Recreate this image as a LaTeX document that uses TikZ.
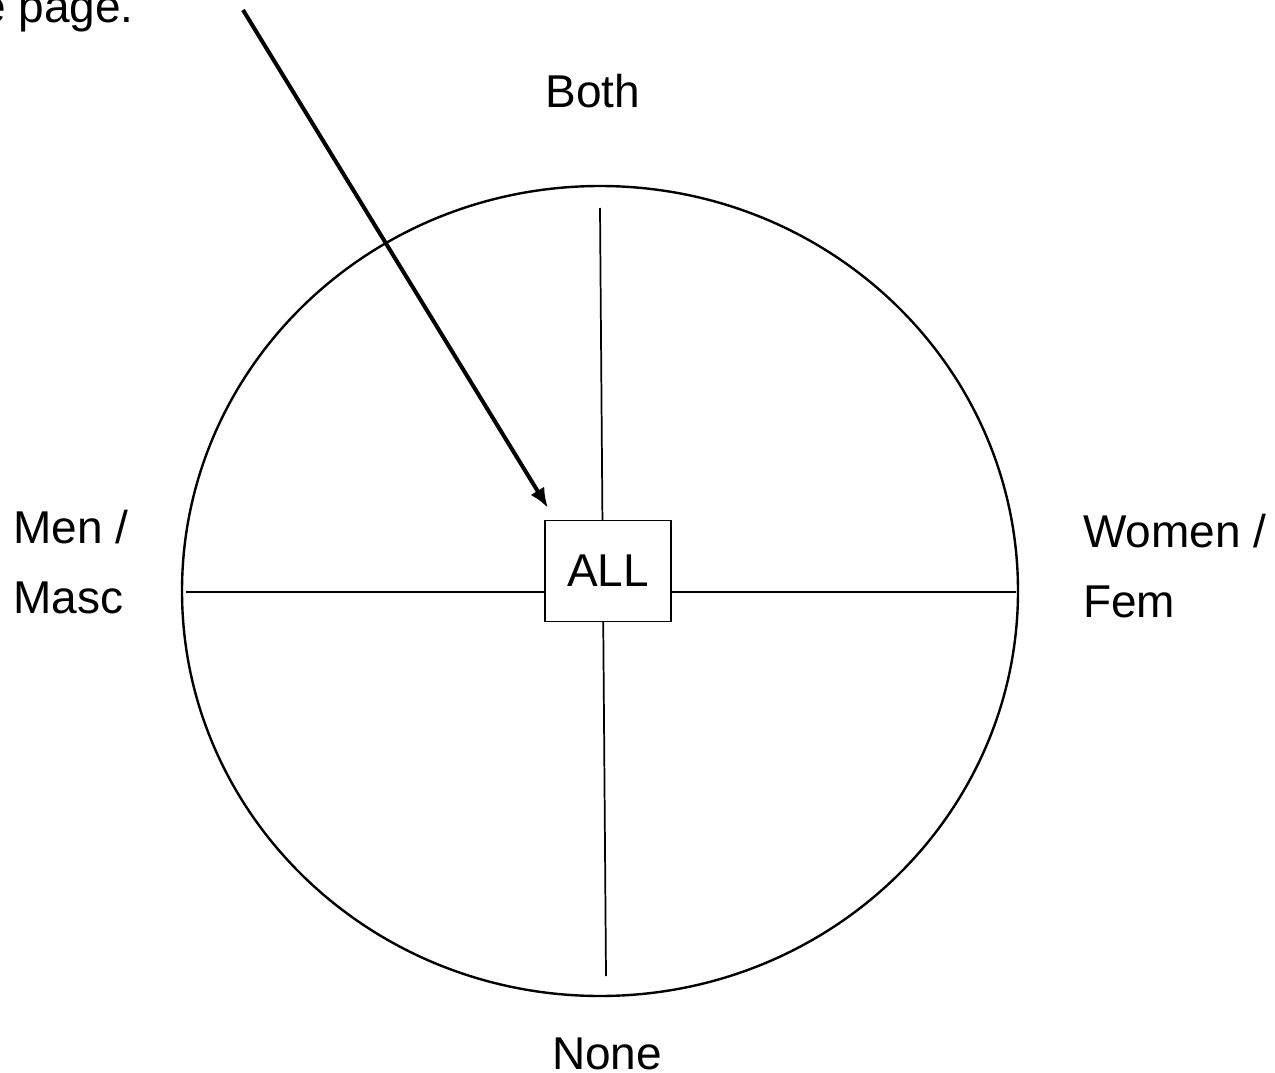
\documentclass[tikz,border=0pt]{standalone}
\usepackage{fontspec}
\setmainfont{Liberation Sans}
\usetikzlibrary{arrows.meta}
\tikzset{
  lbl/.style={font=\fontsize{34.5}{52.5}\selectfont,inner sep=0pt,align=left},
  spoke/.style={line width=1.3pt},
  allbox/.style={draw,fill=white,line width=1.4pt,minimum width=94.5pt,minimum height=75.75pt,inner sep=0pt,font=\fontsize{34.5}{40}\selectfont}
}
\begin{document}
\begin{tikzpicture}[x=0.75pt,y=-0.75pt]
\useasboundingbox (0,0) rectangle (1275,1073);
\draw[line width=1.8pt] (600,591) ellipse [x radius=418,y radius=405];
\coordinate (top) at (600,208);
\coordinate (bot) at (606,976);
\coordinate (lft) at (186,592);
\coordinate (rgt) at (1016,592);
\draw[spoke] (top)--(bot) (lft)--(rgt);
\node[allbox] (all) at (608,571) {ALL};
% labels round the circle
\node[lbl,anchor=base] (both) at (593,108) {Both};
\node[lbl,anchor=base] (none) at (607,1069) {None};
\node[lbl,anchor=base west] (men) at (13,613) {Men /\\Masc};
\node[lbl,anchor=base west] (women) at (1083,617) {Women /\\Fem};
\node[lbl,anchor=base east] (note) at (134,23) {e page.};
\coordinate (src) at (243,10);
\coordinate (tip) at (548,508);
\draw[line width=3pt,-{Latex[length=15pt,width=12pt]}] (src)--(tip);
\end{tikzpicture}
\end{document}
